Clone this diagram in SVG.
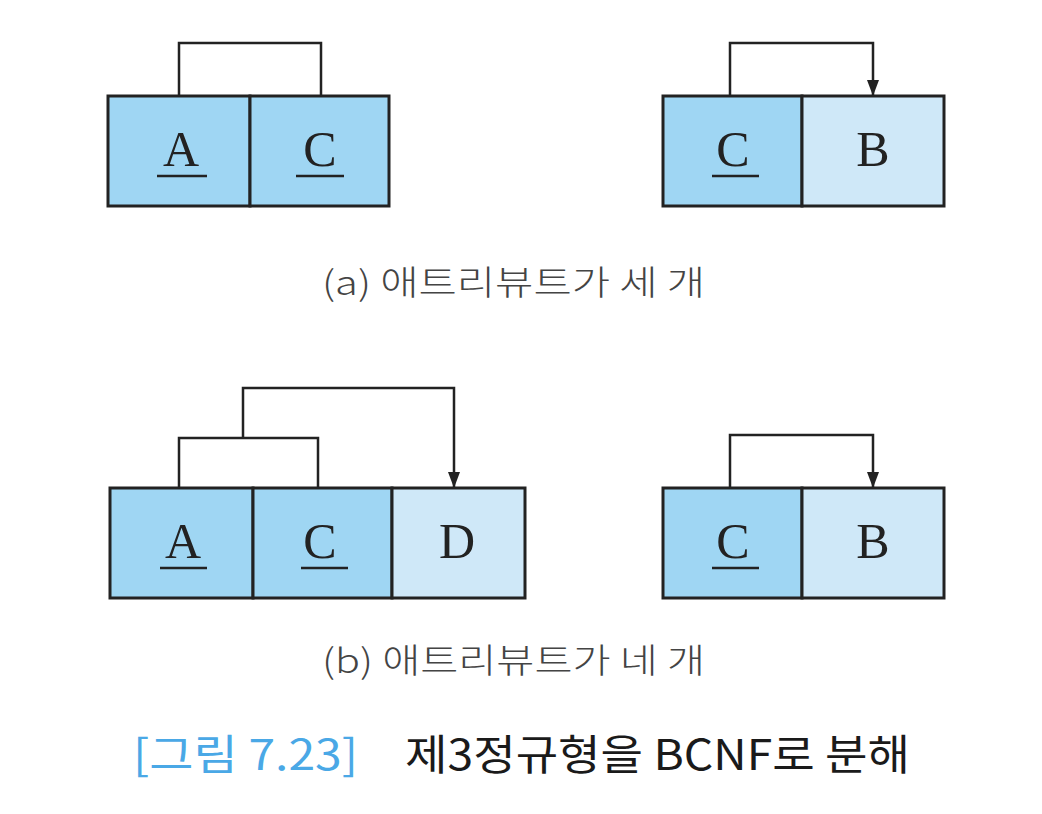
<svg xmlns="http://www.w3.org/2000/svg" width="1042" height="814" viewBox="0 0 1042 814">
<style>
.cell{stroke:#222;stroke-width:3}
.key{fill:#9fd6f3}
.non{fill:#cfe8f8}
.lbl{font-family:"Liberation Serif","DejaVu Serif",serif;font-size:50px;fill:#222;text-anchor:middle}
.ul{stroke:#222;stroke-width:2.5}
.conn{fill:none;stroke:#222;stroke-width:2.5}
.sub{font-family:"Noto Sans CJK KR","Noto Sans",sans-serif;font-size:34px;font-weight:300;fill:#444}
.cap{font-family:"Noto Sans CJK KR","Noto Sans",sans-serif;font-size:42px;font-weight:400}
</style>
<defs>
<marker id="ah" viewBox="0 0 16 12" refX="16" refY="6" markerWidth="16" markerHeight="12" markerUnits="userSpaceOnUse" orient="auto">
<path d="M0,0 L16,6 L0,12 z" fill="#222"/>
</marker>
</defs>
<rect width="1042" height="814" fill="#fff"/>
<g id="connectors">
<path class="conn" d="M179,96 V43 H321 V96"/>
<path class="conn" d="M730,96 V43 H873 V96" marker-end="url(#ah)"/>
<path class="conn" d="M179,488 V438 H318 V488"/>
<path class="conn" d="M243,438 V388 H454 V488" marker-end="url(#ah)"/>
<path class="conn" d="M730,488 V435 H873 V488" marker-end="url(#ah)"/>
</g>
<g id="node-a-left">
<rect class="cell key" x="108" y="96" width="142" height="110"/>
<rect class="cell key" x="250" y="96" width="139" height="110"/>
<text class="lbl" x="181" y="166">A</text>
<line class="ul" x1="157" y1="176" x2="207" y2="176"/>
<text class="lbl" x="320" y="166">C</text>
<line class="ul" x1="296" y1="176" x2="344" y2="176"/>
</g>
<g id="node-a-right">
<rect class="cell key" x="663" y="96" width="139" height="110"/>
<rect class="cell non" x="802" y="96" width="142" height="110"/>
<text class="lbl" x="733" y="166">C</text>
<line class="ul" x1="712" y1="176" x2="759" y2="176"/>
<text class="lbl" x="873" y="166">B</text>
</g>
<text class="sub" x="322" y="295" textLength="383" lengthAdjust="spacingAndGlyphs">(a) 애트리뷰트가 세 개</text>
<g id="node-b-left">
<rect class="cell key" x="110" y="488" width="143" height="110"/>
<rect class="cell key" x="253" y="488" width="139" height="110"/>
<rect class="cell non" x="392" y="488" width="133" height="110"/>
<text class="lbl" x="183" y="558">A</text>
<line class="ul" x1="160" y1="568" x2="207" y2="568"/>
<text class="lbl" x="320" y="558">C</text>
<line class="ul" x1="301" y1="568" x2="348" y2="568"/>
<text class="lbl" x="457" y="558">D</text>
</g>
<g id="node-b-right">
<rect class="cell key" x="663" y="488" width="139" height="110"/>
<rect class="cell non" x="802" y="488" width="142" height="110"/>
<text class="lbl" x="733" y="558">C</text>
<line class="ul" x1="712" y1="568" x2="759" y2="568"/>
<text class="lbl" x="873" y="558">B</text>
</g>
<text class="sub" x="322" y="673" textLength="383" lengthAdjust="spacingAndGlyphs">(b) 애트리뷰트가 네 개</text>
<text class="cap" x="133" y="770" fill="#4aa8e6" textLength="225" lengthAdjust="spacingAndGlyphs">[그림 7.23]</text>
<text class="cap" x="405" y="770" fill="#1a1a1a" textLength="505" lengthAdjust="spacingAndGlyphs">제3정규형을 BCNF로 분해</text>
</svg>
